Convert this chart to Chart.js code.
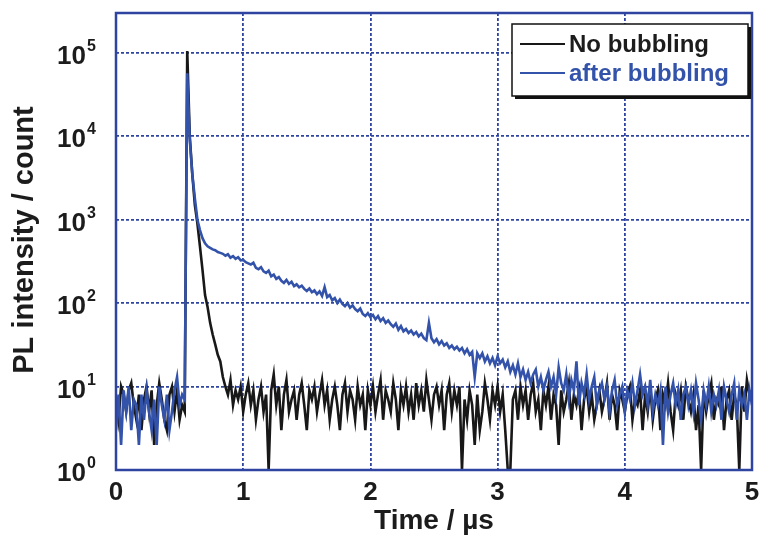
<!DOCTYPE html>
<html><head><meta charset="utf-8">
<script src="https://cdn.jsdelivr.net/npm/chart.js@4.4.1/dist/chart.umd.min.js"></script>
<style>html,body{margin:0;padding:0;background:#fff;} canvas{display:block;}</style>
</head><body>
<canvas id="c" width="760" height="536"></canvas>
<script>
// ---- data ----
const seriesNames = ['No bubbling', 'after bubbling'];
const timeStep = 0.02; // µs between samples, first sample at 0 µs
const noBubbling = [
  7, 4, 10, 8, 5, 9, 11, 6, 4, 8,
  3, 7, 10, 5, 9, 2, 6, 11, 7, 4,
  3, 8, 10, 5, 9, 4, 6, 5, 105000, 10000,
  3500, 1500, 900, 480, 250, 125, 90, 58, 42, 32,
  24, 20, 13, 10, 8, 12, 6, 9, 7, 10,
  5, 8, 11, 6, 9, 4, 7, 10, 5, 8,
  1, 9, 14, 6, 10, 3, 8, 12, 5, 7,
  9, 4, 8, 11, 6, 3, 9, 7, 10, 5,
  8, 12, 6, 9, 4, 7, 10, 6, 3, 8,
  11, 5, 9, 7, 4, 10, 6, 8, 3, 9,
  6, 10, 5, 8, 12, 4, 9, 7, 5, 11,
  7, 3, 9, 6, 10, 5, 8, 4, 11, 6,
  9, 5, 12, 7, 4, 8, 10, 6, 9, 3,
  8, 11, 5, 9, 6, 10, 1, 7, 4, 9,
  6, 2, 8, 3, 5, 11, 7, 4, 9, 6,
  10, 5, 8, 3, 1, 1, 7, 9, 4, 10,
  6, 9, 4, 8, 11, 5, 7, 3, 9, 6,
  10, 4, 8, 6, 2, 9, 5, 7, 11, 4,
  8, 6, 9, 3, 7, 10, 5, 8, 4, 6,
  9, 5, 7, 11, 4, 8, 6, 3, 9, 7,
  5, 8, 10, 4, 7, 6, 9, 3, 8, 5,
  10, 4, 7, 9, 3, 8, 6, 11, 5, 3,
  8, 6, 9, 4, 10, 7, 5, 8, 3, 6,
  1, 9, 5, 8, 11, 4, 7, 6, 10, 3,
  7, 9, 4, 8, 6, 1, 10, 5, 12, 8,
  9
];
const afterBubbling = [
  3, 8, 2, 9, 5, 10, 3, 7, 6, 2,
  8, 4, 9, 5, 3, 7, 2, 10, 6, 4,
  8, 3, 5, 9, 13, 6, 8, 7, 57000, 9000,
  3500, 1800, 1000, 750, 600, 520, 480, 460, 440, 430,
  410, 400, 390, 370, 385, 350, 365, 340, 355, 325,
  330, 310, 300, 290, 305, 265, 255, 270, 240, 230,
  245, 210, 220, 195, 205, 185, 175, 190, 170, 180,
  160, 168, 155, 162, 148, 140, 150, 135, 142, 128,
  138, 122, 155, 118, 125, 108, 115, 100, 110, 98,
  92, 100, 88, 94, 85, 80, 86, 74, 70, 76,
  68, 72, 64, 70, 61, 66, 58, 62, 56, 52,
  57, 48, 53, 46, 49, 44, 47, 42, 45, 40,
  43, 38, 36, 58, 38, 34, 37, 32, 35, 31,
  33, 29, 31, 28, 30, 27, 29, 25, 28, 24,
  26, 13, 25, 22, 25, 20, 23, 19, 22, 18,
  23, 19, 21, 17, 20, 15, 18, 14, 19, 13,
  16, 12, 15, 11, 14, 16, 10, 13, 9, 12,
  15, 10, 13, 8, 17, 11, 9, 14, 7, 12,
  9, 20, 6, 11, 8, 14, 7, 10, 13, 6,
  9, 11, 7, 10, 5, 9, 12, 6, 8, 10,
  5, 9, 7, 11, 6, 9, 14, 8, 10, 6,
  12, 5, 8, 6, 9, 2, 10, 5, 8, 11,
  6, 9, 4, 8, 10, 6, 9, 5, 11, 7,
  4, 9, 6, 10, 5, 8, 6, 9, 4, 10,
  7, 5, 8, 11, 4, 9, 6, 8, 4, 9,
  6
];
const xTickValues = [0, 1, 2, 3, 4, 5];
const yTickExponents = [0, 1, 2, 3, 4, 5];
const xTitle = 'Time / µs';
const yTitle = 'PL intensity / count';

// ---- styling ----
const FONT = '"Liberation Sans", Arial, Helvetica, sans-serif';
const FRAME_BLUE = '#2e44a0';
const BLUE = '#3352aa';
const BLACK = '#181818';
const TEXT = '#1c1c1c';

const toPoints = vals => vals.map((v, i) => ({ x: +(i * timeStep).toFixed(2), y: v }));

const decor = {
  id: 'decor',
  afterDraw(chart) {
    const ctx = chart.ctx, a = chart.chartArea;
    const xs = chart.scales.x, ys = chart.scales.y;
    ctx.save();
    // frame
    ctx.strokeStyle = FRAME_BLUE; ctx.lineWidth = 2.5; ctx.setLineDash([]);
    ctx.strokeRect(a.left, a.top, a.right - a.left, a.bottom - a.top);
    ctx.fillStyle = TEXT;
    // x tick labels
    ctx.font = 'bold 26px ' + FONT; ctx.textAlign = 'center'; ctx.textBaseline = 'middle';
    xTickValues.forEach(v => ctx.fillText(String(v), xs.getPixelForValue(v), 493));
    // y tick labels 10^n
    yTickExponents.forEach(e => {
      const y = ys.getPixelForValue(Math.pow(10, e));
      ctx.font = 'bold 26px ' + FONT; ctx.textAlign = 'right'; ctx.textBaseline = 'middle';
      ctx.fillText('10', 86, y + 4);
      ctx.font = 'bold 16px ' + FONT; ctx.textAlign = 'left'; ctx.textBaseline = 'alphabetic';
      ctx.fillText(String(e), 87, y - 2);
    });
    // axis titles
    ctx.font = 'bold 28px ' + FONT; ctx.textAlign = 'center'; ctx.textBaseline = 'middle';
    ctx.fillText(xTitle, (a.left + a.right) / 2, 521);
    ctx.font = 'bold 29px ' + FONT;
    ctx.save(); ctx.translate(25, 240); ctx.rotate(-Math.PI / 2);
    ctx.fillText(yTitle, 0, 0); ctx.restore();
    // legend
    const bx = 512, by = 24, bw = 236, bh = 72;
    ctx.fillStyle = '#111'; ctx.fillRect(bx + 3, by + 3, bw, bh);
    ctx.fillStyle = '#fff'; ctx.fillRect(bx, by, bw, bh);
    ctx.strokeStyle = '#111'; ctx.lineWidth = 1.5; ctx.strokeRect(bx, by, bw, bh);
    const ds = chart.data.datasets;
    [0, 1].forEach(k => {
      const yy = k === 0 ? 44 : 73;
      ctx.strokeStyle = ds[k].borderColor; ctx.lineWidth = 2.2;
      ctx.beginPath(); ctx.moveTo(520, yy); ctx.lineTo(565, yy); ctx.stroke();
      ctx.fillStyle = k === 0 ? TEXT : BLUE;
      ctx.font = 'bold 24px ' + FONT; ctx.textAlign = 'left'; ctx.textBaseline = 'middle';
      ctx.fillText(ds[k].label, 569, yy + 1);
    });
    ctx.restore();
  }
};

new Chart(document.getElementById('c'), {
  type: 'line',
  data: {
    datasets: [
      { label: seriesNames[0], data: toPoints(noBubbling), borderColor: BLACK, borderWidth: 2.6,
        pointRadius: 0, tension: 0, fill: false, order: 2 },
      { label: seriesNames[1], data: toPoints(afterBubbling), borderColor: BLUE, borderWidth: 2.6,
        pointRadius: 0, tension: 0, fill: false, order: 1 }
    ]
  },
  options: {
    responsive: false, animation: false, devicePixelRatio: 1,
    layout: { padding: { left: 0, top: 13, right: 8, bottom: 0 } },
    plugins: { legend: { display: false }, tooltip: { enabled: false } },
    scales: {
      x: {
        type: 'linear', min: 0, max: 5,
        afterBuildTicks: s => { s.ticks = xTickValues.map(v => ({ value: v })); },
        ticks: { display: false },
        grid: { color: FRAME_BLUE, lineWidth: 1.8, drawTicks: false },
        border: { display: false, dash: [3, 2] },
        afterFit: s => { s.height = 66; }
      },
      y: {
        type: 'logarithmic', min: 1, max: 300000,
        afterBuildTicks: s => { s.ticks = yTickExponents.map(e => ({ value: Math.pow(10, e) })); },
        ticks: { display: false },
        grid: { color: FRAME_BLUE, lineWidth: 1.8, drawTicks: false },
        border: { display: false, dash: [3, 2] },
        afterFit: s => { s.width = 116; }
      }
    }
  },
  plugins: [decor]
});
</script>
</body></html>
